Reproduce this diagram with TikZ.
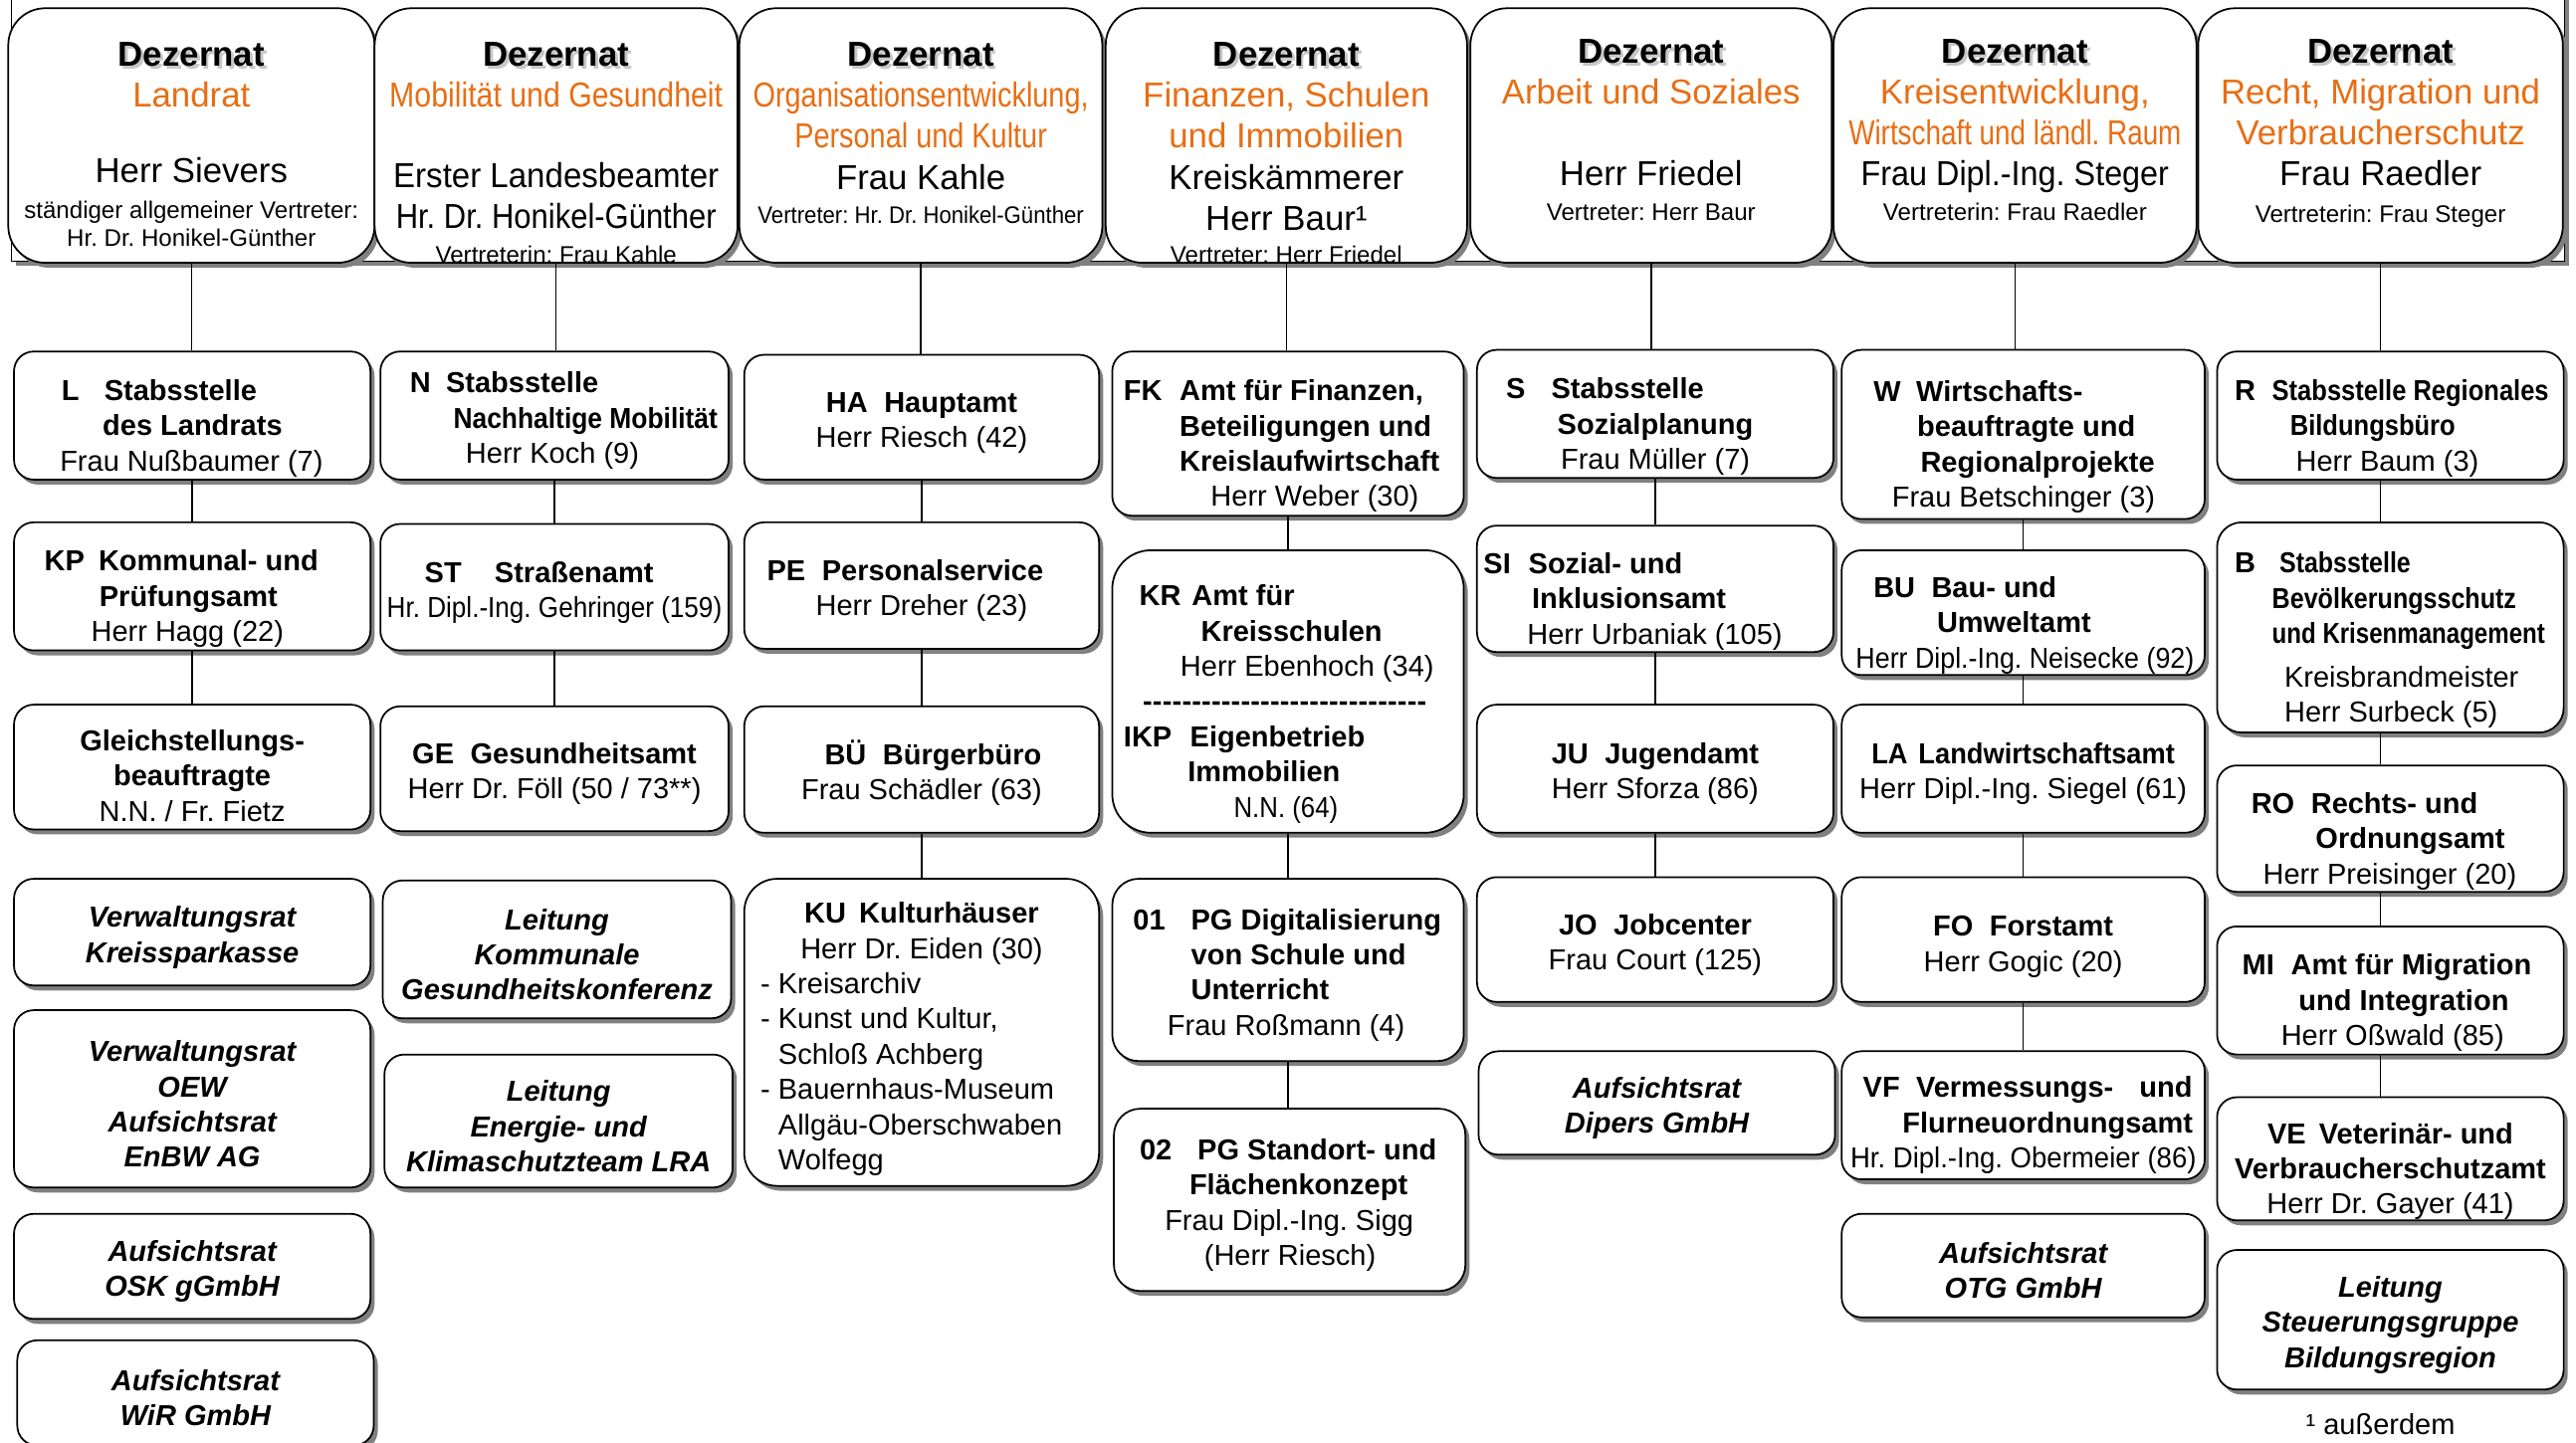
\documentclass[tikz,border=0pt]{standalone}
\usepackage{fontspec}
\setmainfont{Liberation Sans}
\usepackage{graphicx}
\usetikzlibrary{shadows}
\frenchspacing

\definecolor{dzorange}{RGB}{232,110,20}
\newlength{\px}\setlength{\px}{0.02cm}
\newcommand{\cd}[2]{\makebox[#1\px][l]{#2}}
\newcommand{\ind}[1]{\hspace*{#1\px}}
\newcommand{\nar}[2]{\scalebox{#1}[1]{#2}}
\newcommand{\sm}{\fontsize{8.3}{10}\selectfont}
\newcommand{\dashline}[1]{\makebox[#1\px][l]{\xleaders\hbox{\bfseries -}\hfill}}
\newcommand{\dz}{\rlap{\kern1pt\raisebox{-1pt}{\textcolor{black!22}{\textbf{Dezernat}}}}\textbf{Dezernat}}

\tikzset{
  shade/.style={drop shadow={shadow xshift=0.05cm, shadow yshift=-0.06cm, fill=black!50, opacity=1}},
  hframe/.style={draw, line width=0.6pt, fill=white, shade},
  head/.style={draw, line width=0.6pt, fill=white, rounded corners=0.45cm, shade, minimum height=3.1cm, inner sep=0pt},
  headtxt/.style={anchor=north, inner sep=0pt, text width=4.4cm, align=flush center, font=\fontsize{12}{14.2}\selectfont},
  box/.style={draw, line width=0.6pt, fill=white, rounded corners=0.24cm, shade, inner xsep=0.08cm, inner ysep=0pt, align=flush center, font=\fontsize{10}{12.2}\selectfont, execute at begin node={\rule{0pt}{19\px}}},
  low/.style={execute at begin node={\rule{0pt}{#1\px}}},
  low/.default=28,
  lbox/.style={box, align=flush left},
  ibox/.style={box, font=\fontsize{10}{12.2}\selectfont\bfseries\itshape},
  c1/.style={text width=4.18cm},
  c2/.style={text width=4.08cm},
  c3/.style={text width=4.16cm},
  c4/.style={text width=4.12cm},
  c5/.style={text width=4.18cm},
  c6/.style={text width=4.26cm},
  c7/.style={text width=4.06cm},
  link/.style={line width=0.5pt},
  note/.style={font=\fontsize{10}{12}\selectfont}
}

\begin{document}
\begin{tikzpicture}[x=0.02cm, y=-0.02cm]
\useasboundingbox (0,0) rectangle (1568,878);

% frame behind the Dezernate
\draw[hframe] (7,-30) rectangle (1561,159);

% Dezernate
\node[head, minimum width=4.46cm] (h1) at (116.5,82.5) {};
\node[head, minimum width=4.42cm] (h2) at (338.5,82.5) {};
\node[head, minimum width=4.42cm] (h3) at (560.5,82.5) {};
\node[head, minimum width=4.40cm] (h4) at (783,82.5) {};
\node[head, minimum width=4.40cm] (h5) at (1005,82.5) {};
\node[head, minimum width=4.42cm] (h6) at (1226.5,82.5) {};
\node[head, minimum width=4.44cm] (h7) at (1449,82.5) {};

\node[headtxt] (h1t) at (116.5,25.5) {\dz\\ \textcolor{dzorange}{Landrat}\\[21\px] Herr Sievers\\[-3\px] {\sm ständiger allgemeiner Vertreter:}\\[-8\px] {\sm Hr. Dr. Honikel-Günther}};
\node[headtxt] (h2t) at (338.5,25.5) {\dz\\ \textcolor{dzorange}{\nar{0.87}{Mobilität und Gesundheit}}\\[24\px] \nar{0.95}{Erster Landesbeamter}\\ \nar{0.89}{Hr. Dr. Honikel-Günther}\\[-4\px] {\sm Vertreterin: Frau Kahle}};
\node[headtxt] (h3t) at (560.5,25.5) {\dz\\ \textcolor{dzorange}{\nar{0.83}{Organisationsentwicklung,}}\\ \textcolor{dzorange}{\nar{0.83}{Personal und Kultur}}\\ Frau Kahle\\[-4\px] {\sm\nar{0.92}{Vertreter: Hr. Dr. Honikel-Günther}}};
\node[headtxt] (h4t) at (783,25.5) {\dz\\ \textcolor{dzorange}{Finanzen, Schulen}\\ \textcolor{dzorange}{und Immobilien}\\ Kreiskämmerer\\ Herr Baur¹\\[-5\px] {\sm Vertreter: Herr Friedel}};
\node[headtxt] (h5t) at (1005,23.5) {\dz\\ \textcolor{dzorange}{Arbeit und Soziales}\\[25\px] Herr Friedel\\[-4\px] {\sm Vertreter: Herr Baur}};
\node[headtxt] (h6t) at (1226.5,23.5) {\dz\\ \textcolor{dzorange}{Kreisentwicklung,}\\ \textcolor{dzorange}{\nar{0.8}{Wirtschaft und ländl. Raum}}\\ \nar{0.93}{Frau Dipl.-Ing. Steger}\\[-4\px] {\sm Vertreterin: Frau Raedler}};
\node[headtxt] (h7t) at (1449,23.5) {\dz\\ \textcolor{dzorange}{Recht, Migration und}\\ \textcolor{dzorange}{Verbraucherschutz}\\ Frau Raedler\\[-3\px] {\sm Vertreterin: Frau Steger}};

% Landrat
\node[lbox, c1, low, minimum height=1.56cm] (l) at (117,253) {\textbf{\ind{25}\cd{26}{L}Stabsstelle}\\ \textbf{\ind{50}des Landrats}\\ \ind{24}Frau Nußbaumer (7)};
\node[lbox, c1, low, minimum height=1.56cm] (kp) at (117,357) {\textbf{\ind{14.5}\cd{33}{KP}Kommunal- und}\\ \textbf{\ind{48}Prüfungsamt}\\ \ind{43}Herr Hagg (22)};
\node[box, c1, low=23, minimum height=1.52cm] (gb) at (117,467) {\textbf{Gleichstellungs-}\\ \textbf{beauftragte}\\ N.N. / Fr. Fietz};
\node[ibox, c1, minimum height=1.30cm] (vk) at (117,567.5) {Verwaltungsrat\\ Kreissparkasse};
\node[ibox, c1, minimum height=2.16cm] (voe) at (117,669) {Verwaltungsrat\\ OEW\\ Aufsichtsrat\\ EnBW AG};
\node[ibox, c1, minimum height=1.28cm] (osk) at (117,771) {Aufsichtsrat\\ OSK gGmbH};
\node[ibox, c1, minimum height=1.28cm] (wir) at (119,848) {Aufsichtsrat\\ WiR GmbH};

% Mobilitaet und Gesundheit
\node[lbox, c2, minimum height=1.56cm] (n) at (337.5,253) {\textbf{\ind{14}\cd{22}{N}Stabsstelle}\\ \textbf{\ind{40.5}\nar{0.91}{Nachhaltige Mobilität}}\\ \ind{48}Herr Koch (9)};
\node[lbox, c2, minimum height=1.54cm] (st) at (337.5,357.5) {\textbf{\ind{23}\cd{42.6}{ST}Straßenamt}\\ \nar{0.9}{Hr. Dipl.-Ing. Gehringer (159)}};
\node[box, c2, minimum height=1.52cm] (ge) at (337.5,468) {\textbf{GE\hspace{10\px}Gesundheitsamt}\\ Herr Dr. Föll (50 / 73**)};
\node[ibox, c2, minimum height=1.68cm] (lkg) at (339,578) {Leitung\\ Kommunale\\ Gesundheitskonferenz};
\node[ibox, c2, minimum height=1.62cm] (lek) at (340,682.5) {Leitung\\ Energie- und\\ Klimaschutzteam LRA};

% Organisationsentwicklung, Personal und Kultur
\node[box, c3, minimum height=1.52cm] (ha) at (561,254) {\textbf{HA\hspace{10\px}Hauptamt}\\ Herr Riesch (42)};
\node[box, c3, minimum height=1.54cm] (pe) at (561,356.5) {\textbf{PE\hspace{10\px}Personalservice}\kern20\px\\ Herr Dreher (23)};
\node[box, c3, minimum height=1.54cm] (bue) at (561,468.5) {\kern14\px\textbf{BÜ\hspace{10\px}Bürgerbüro}\\ Frau Schädler (63)};
\node[box, c3, low=21, minimum height=3.74cm, rounded corners=0.4cm] (ku) at (561,628.5) {\textbf{KU\hspace{8\px}Kulturhäuser}\\ Herr Dr. Eiden (30)\\ \cd{196}{- Kreisarchiv}\\ \cd{196}{- Kunst und Kultur,}\\ \cd{196}{\hphantom{- }Schloß Achberg}\\ \cd{196}{- Bauernhaus-Museum}\\ \cd{196}{\hphantom{- }Allgäu-Oberschwaben}\\ \cd{196}{\hphantom{- }Wolfegg}};

% Finanzen, Schulen und Immobilien
\node[lbox, c4, low, minimum height=2.00cm] (fk) at (784,264) {\textbf{\ind{3}\cd{34}{FK}Amt für Finanzen,}\\ \textbf{\ind{37}Beteiligungen und}\\ \textbf{\ind{37}Kreislaufwirtschaft}\\ \ind{56}Herr Weber (30)};
\node[lbox, c4, low, minimum height=3.44cm, rounded corners=0.47cm] (kr) at (784,421) {\textbf{\ind{12.5}\cd{32}{KR}Amt für}\\ \textbf{\ind{50}Kreisschulen}\\ \ind{37.5}Herr Ebenhoch (34)\\ \ind{14.5}\dashline{173}\\ \textbf{\ind{3}\cd{40.4}{IKP}Eigenbetrieb}\\ \textbf{\ind{42}Immobilien}\\ \ind{70}\nar{0.89}{N.N. (64)}};
\node[lbox, c4, minimum height=2.22cm, rounded corners=0.32cm] (p01) at (784,590.5) {\textbf{\ind{8.7}\cd{35.3}{01}PG Digitalisierung}\\ \textbf{\ind{44}von Schule und}\\ \textbf{\ind{44}Unterricht}\\ \ind{29.6}Frau Roßmann (4)};
\node[lbox, c4, minimum height=2.22cm, rounded corners=0.32cm] (p02) at (785,730.5) {\textbf{\ind{11.7}\cd{35.3}{02}PG Standort- und}\\ \textbf{\ind{42}Flächenkonzept}\\ \ind{27}Frau Dipl.-Ing. Sigg\\ \ind{51}(Herr Riesch)};

% Arbeit und Soziales
\node[lbox, c5, low, minimum height=1.56cm] (s) at (1007.5,252) {\textbf{\ind{13.7}\cd{27.6}{S}Stabsstelle}\\ \textbf{\ind{45}Sozialplanung}\\ \ind{47}Frau Müller (7)};
\node[lbox, c5, low, minimum height=1.54cm] (si) at (1007.5,358.5) {\textbf{\cd{27.4}{SI}Sozial- und}\\ \textbf{\ind{29.5}Inklusionsamt}\\ \ind{26.6}Herr Urbaniak (105)};
\node[box, c5, minimum height=1.56cm] (ju) at (1007.5,468) {\textbf{JU\hspace{10\px}Jugendamt}\\ Herr Sforza (86)};
\node[box, c5, minimum height=1.52cm] (jo) at (1007.5,572) {\textbf{JO\hspace{10\px}Jobcenter}\\ Frau Court (125)};
\node[ibox, c5, minimum height=1.26cm] (dip) at (1008.5,671.5) {Aufsichtsrat\\ Dipers GmbH};

% Kreisentwicklung, Wirtschaft und laendlicher Raum
\node[lbox, c6, low, minimum height=2.06cm] (w) at (1231.5,264.5) {\textbf{\ind{15.4}\cd{26}{W}Wirtschafts-}\\ \textbf{\ind{42}beauftragte und}\\ \textbf{\ind{44}Regionalprojekte}\\ \ind{26.6}Frau Betschinger (3)};
\node[lbox, c6, low, minimum height=1.52cm] (bu) at (1231.5,373) {\textbf{\ind{15.4}\cd{35.3}{BU}Bau- und}\\ \textbf{\ind{54}Umweltamt}\\ \ind{4.6}\nar{0.925}{Herr Dipl.-Ing. Neisecke (92)}};
\node[box, c6, minimum height=1.56cm] (la) at (1231.5,468) {\nar{0.94}{\textbf{LA\hspace{7\px}Landwirtschaftsamt}}\\ Herr Dipl.-Ing. Siegel (61)};
\node[box, c6, low=21, minimum height=1.52cm] (fo) at (1231.5,572) {\textbf{FO\hspace{10\px}Forstamt}\\ Herr Gogic (20)};
\node[lbox, c6, low=25, minimum height=1.56cm] (vf) at (1231.5,679) {\textbf{\ind{9}\cd{32.3}{VF}\cd{136}{Vermessungs-}und}\\ \textbf{\ind{33}Flurneuordnungsamt}\\ \ind{1.3}\nar{0.95}{Hr. Dipl.-Ing. Obermeier (86)}};
\node[ibox, c6, minimum height=1.26cm] (otg) at (1231.5,770.5) {Aufsichtsrat\\ OTG GmbH};

% Recht, Migration und Verbraucherschutz
\node[lbox, c7, low, minimum height=1.56cm] (r) at (1455,253) {\textbf{\ind{6.7}\cd{22.8}{R}\nar{0.88}{Stabsstelle Regionales}}\\ \textbf{\ind{40.5}\nar{0.88}{Bildungsbüro}}\\ \ind{44}Herr Baum (3)};
\node[lbox, c7, low, minimum height=2.56cm, rounded corners=0.3cm] (b) at (1455,382) {\textbf{\ind{6.7}\cd{27.3}{B}\nar{0.86}{Stabsstelle}}\\ \textbf{\ind{29.5}\nar{0.865}{Bevölkerungsschutz}}\\ \textbf{\ind{29.5}\nar{0.83}{und Krisenmanagement}}\\[5\px] \ind{37}Kreisbrandmeister\\ \ind{37}Herr Surbeck (5)};
\node[lbox, c7, low, minimum height=1.54cm] (ro) at (1455,504.5) {\textbf{\ind{16.8}\cd{36.4}{RO}Rechts- und}\\ \textbf{\ind{56}Ordnungsamt}\\ \ind{24}Herr Preisinger (20)};
\node[lbox, c7, low, minimum height=1.56cm] (mi) at (1455,603) {\textbf{\ind{11.3}\cd{29.7}{MI}Amt für Migration}\\ \textbf{\ind{45.7}und Integration}\\ \ind{35}Herr Oßwald (85)};
\node[box, c7, low, minimum height=1.50cm] (ve) at (1455,705.5) {\textbf{VE\hspace{8\px}Veterinär- und}\\ \textbf{Verbraucherschutzamt}\\ Herr Dr. Gayer (41)};
\node[ibox, c7, minimum height=1.70cm] (lsb) at (1455,803.5) {Leitung\\ Steuerungsgruppe\\ Bildungsregion};
\node[note] (fn) at (1449,867) {¹ außerdem};

% Verbindungen
\draw[link] (h1.south) -- (h1.south |- l.north);
\draw[link] (l) -- (kp);
\draw[link] (kp) -- (gb);

\draw[link] (h2.south) -- (h2.south |- n.north);
\draw[link] (n) -- (st);
\draw[link] (st) -- (ge);

\draw[link] (h3.south) -- (h3.south |- ha.north);
\draw[link] (ha) -- (pe);
\draw[link] (pe) -- (bue);
\draw[link] (bue) -- (ku);

\draw[link] (h4.south) -- (h4.south |- fk.north);
\draw[link] (fk) -- (kr);
\draw[link] (kr) -- (p01);
\draw[link] (p01.south) -- (p01.south |- p02.north);

\draw[link] (h5.south) -- (h5.south |- s.north);
\draw[link] (s) -- (si);
\draw[link] (si) -- (ju);
\draw[link] (ju) -- (jo);

\draw[link] (h6.south) -- (h6.south |- w.north);
\draw[link] (w) -- (bu);
\draw[link] (bu) -- (la);
\draw[link] (la) -- (fo);
\draw[link] (fo) -- (vf);

\draw[link] (h7.south) -- (h7.south |- r.north);
\draw[link] (r.south -| h7.south) -- (b.north -| h7.south);
\draw[link] (b.south -| h7.south) -- (ro.north -| h7.south);
\draw[link] (ro.south -| h7.south) -- (mi.north -| h7.south);
\draw[link] (mi.south -| h7.south) -- (ve.north -| h7.south);
\end{tikzpicture}
\end{document}
